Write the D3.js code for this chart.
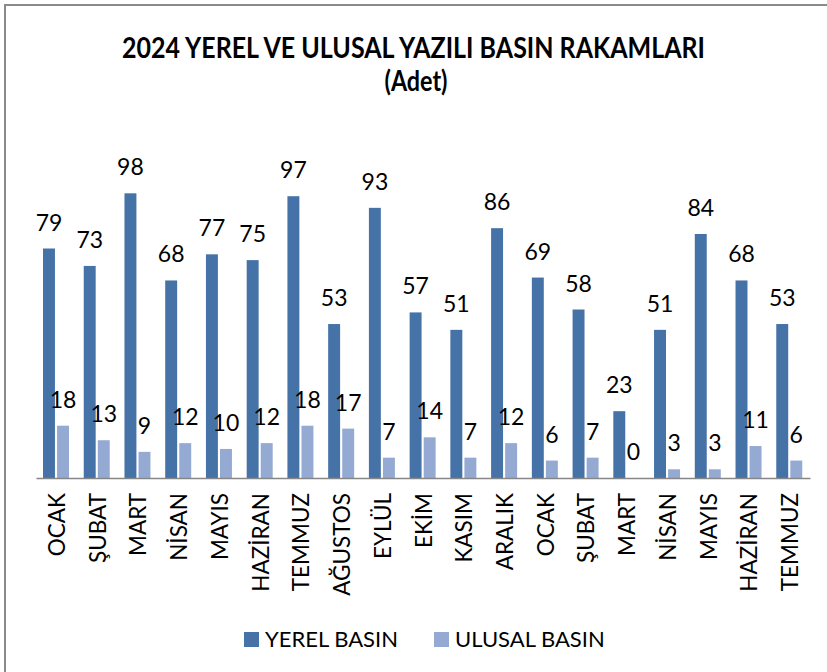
<!DOCTYPE html>
<html><head><meta charset="utf-8">
<script src="https://cdn.jsdelivr.net/npm/d3@7"></script>
<style>body{margin:0;background:#fff}svg{display:block}</style>
</head><body>
<svg id="c" width="827" height="672"></svg>
<script>
const months = ["OCAK","ŞUBAT","MART","NİSAN","MAYIS","HAZİRAN","TEMMUZ","AĞUSTOS","EYLÜL","EKİM","KASIM","ARALIK","OCAK","ŞUBAT","MART","NİSAN","MAYIS","HAZİRAN","TEMMUZ"];
const yerel = [79,73,98,68,77,75,97,53,93,57,51,86,69,58,23,51,84,68,53];
const ulusal = [18,13,9,12,10,12,18,17,7,14,7,12,6,7,0,3,3,11,6];
const seriesNames = ["YEREL BASIN","ULUSAL BASIN"];
const titleLines = ["2024 YEREL VE ULUSAL YAZILI BASIN RAKAMLARI","(Adet)"];

const colors = ["#4572A7","#95AAD3"];
const font = "Lato, 'Open Sans', sans-serif";
const svg = d3.select("#c");

// outer border (only top/left visible in the crop)
svg.append("rect").attr("x",5).attr("y",5).attr("width",840).attr("height",690)
  .attr("fill","none").attr("stroke","#8a8a8a").attr("stroke-width",2);

// title
svg.append("text").attr("x",413.5).attr("y",58).attr("text-anchor","middle")
  .attr("font-family",font).attr("font-weight","bold").attr("font-size",28).attr("fill","#000")
  .attr("textLength",583).attr("lengthAdjust","spacingAndGlyphs").text(titleLines[0]);
svg.append("text").attr("x",416).attr("y",91).attr("text-anchor","middle")
  .attr("font-family",font).attr("font-weight","bold").attr("font-size",28).attr("fill","#000")
  .attr("textLength",63).attr("lengthAdjust","spacingAndGlyphs").text(titleLines[1]);

const idx = months.map((m,i)=>i);
const x0 = d3.scaleBand().domain(idx).range([36,810]).padding(0);
const x1 = d3.scaleBand().domain([0,1]).range([7,33]).paddingInner(0.15);
const y = d3.scaleLinear().domain([0,100]).range([478,187.5]);

const data = idx.map(i=>({i, vals:[yerel[i], ulusal[i]]}));
const g = svg.append("g");
const grp = g.selectAll("g.cat").data(data).join("g").attr("class","cat")
  .attr("transform",d=>`translate(${x0(d.i)},0)`);
grp.selectAll("rect").data(d=>d.vals.map((v,k)=>({v,k}))).join("rect")
  .attr("x",d=>x1(d.k)).attr("width",x1.bandwidth())
  .attr("y",d=>y(d.v)).attr("height",d=>y(0)-y(d.v))
  .attr("fill",d=>colors[d.k]);
grp.selectAll("text").data(d=>d.vals.map((v,k)=>({v,k}))).join("text")
  .attr("x",d=>x1(d.k)+x1.bandwidth()/2).attr("y",d=>y(d.v)-18)
  .attr("text-anchor","middle").attr("font-family",font).attr("font-size",23).attr("fill","#000")
  .text(d=>d.v);

// x axis
const ax = svg.append("g").attr("transform",`translate(0,${y(0)})`)
  .call(d3.axisBottom(x0).tickSize(0).tickSizeOuter(0).tickFormat(i=>months[i]));
ax.select(".domain").attr("stroke","#868686").attr("stroke-width",1.5);
ax.selectAll(".tick text")
  .attr("font-family",font).attr("font-size",22.5).attr("fill","#000")
  .attr("text-anchor","end").attr("dy",null).attr("dominant-baseline","central")
  .attr("transform","translate(0,15) rotate(-90)").attr("x",0).attr("y",0);

// legend
const leg = svg.append("g");
const lx = [244,434];
seriesNames.forEach((n,k)=>{
  leg.append("rect").attr("x",lx[k]).attr("y",632).attr("width",15).attr("height",15).attr("fill",colors[k]);
  leg.append("text").attr("x",lx[k]+21).attr("y",647).attr("font-family",font).attr("font-size",22)
    .attr("fill","#000").text(n);
});
</script>
</body></html>
